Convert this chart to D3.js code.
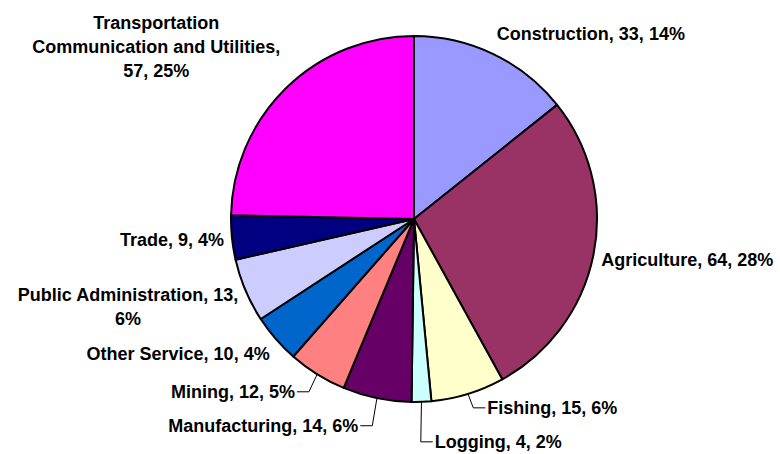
<!DOCTYPE html>
<html>
<head>
<meta charset="utf-8">
<script src="https://cdn.jsdelivr.net/npm/d3@7"></script>
<style>
  body { margin: 0; background: #fff; }
  text { font-family: "Liberation Sans", Arial, sans-serif; font-weight: bold; font-size: 18px; fill: #000; }
</style>
</head>
<body>
<div id="chart"></div>
<script>
//////////////////////////////////////////////////////////////
//////////////////////// Data ////////////////////////////////
//////////////////////////////////////////////////////////////

var categories = ["Construction", "Agriculture", "Fishing", "Logging", "Manufacturing",
    "Mining", "Other Service", "Public Administration", "Trade",
    "Transportation Communication and Utilities"];
var values = [33, 64, 15, 4, 14, 12, 10, 13, 9, 57];
var colours = ["#9999FF", "#993366", "#FFFFCC", "#CCFFFF", "#660066",
    "#FF8080", "#0066CC", "#CCCCFF", "#000080", "#FF00FF"];

//labels moved off their default spot (with leader line)
var labelNudge = {
    "Fishing": [17, -8],
    "Logging": [13, 17],
    "Manufacturing": [-17, 5],
    "Mining": [-18, -2]
};

//////////////////////////////////////////////////////////////
//////////////////////// Setup ///////////////////////////////
//////////////////////////////////////////////////////////////

var width = 780,
    height = 454;
var cx = 414, cy = 219, radius = 183;
var lineHeight = 24, wrapWidth = 250;

var svg = d3.select("#chart")
    .append("svg")
    .attr("width", width)
    .attr("height", height);

var total = d3.sum(values);
var data = categories.map(function(c, i) {
    return { name: c, value: values[i], colour: colours[i] };
});

var pie = d3.pie()
    .sort(null)
    .value(function(d) { return d.value; });

var arc = d3.arc()
    .innerRadius(0)
    .outerRadius(radius);

var arcs = pie(data);

var g = svg.append("g")
    .attr("transform", "translate(" + cx + "," + cy + ")");

g.selectAll(".slice")
    .data(arcs)
    .enter().append("path")
    .attr("class", "slice")
    .attr("d", arc)
    .style("fill", function(d) { return d.data.colour; })
    .style("stroke", "#000")
    .style("stroke-width", 2)
    .style("stroke-linejoin", "round");

//////////////////////////////////////////////////////////////
//////////////////////// Labels //////////////////////////////
//////////////////////////////////////////////////////////////

var measure = svg.append("text").attr("x", -1000).attr("y", -1000);
function textWidth(s) {
    measure.text(s);
    return measure.node().getComputedTextLength();
}

function wrap(str) {
    var words = str.split(" "), lines = [], line = "";
    words.forEach(function(w) {
        var test = line ? line + " " + w : w;
        if (line && textWidth(test) > wrapWidth) {
            lines.push(line);
            line = w;
        } else {
            line = test;
        }
    });
    lines.push(line);
    return lines;
}

arcs.forEach(function(d) {
    var pct = Math.round(d.value / total * 100) + "%";
    var lines = wrap(d.data.name + ", " + d.value + ", " + pct);
    var widths = lines.map(textWidth);
    var W = d3.max(widths),
        H = (lines.length - 1) * lineHeight + 20;

    var mid = (d.startAngle + d.endAngle) / 2,
        s = Math.sin(mid), c = Math.cos(mid);
    var ax = (radius + 8) * s,
        ay = -(radius + 8) * c;

    var left = s > 0 ? ax : ax - W;
    var boxCy = ay - c * H * 0.75;

    var nudge = labelNudge[d.data.name];
    if (nudge) {
        left += nudge[0];
        boxCy += nudge[1];
    }

    var t = g.append("text")
        .attr("text-anchor", "middle");
    lines.forEach(function(l, i) {
        t.append("tspan")
            .attr("x", left + W / 2)
            .attr("y", boxCy - H / 2 + 10 + i * lineHeight)
            .attr("dy", "0.36em")
            .text(l);
    });

    if (nudge) {
        var px = radius * s, py = -radius * c;
        var edge = s > 0 ? left : left + W;
        var dir = s > 0 ? -1 : 1;
        g.append("path")
            .attr("d", "M" + px + "," + py +
                "L" + (edge + dir * 14) + "," + boxCy +
                "L" + (edge + dir * 2) + "," + boxCy)
            .style("fill", "none")
            .style("stroke", "#000")
            .style("stroke-width", 1);
    }
});

measure.remove();
</script>
</body>
</html>
